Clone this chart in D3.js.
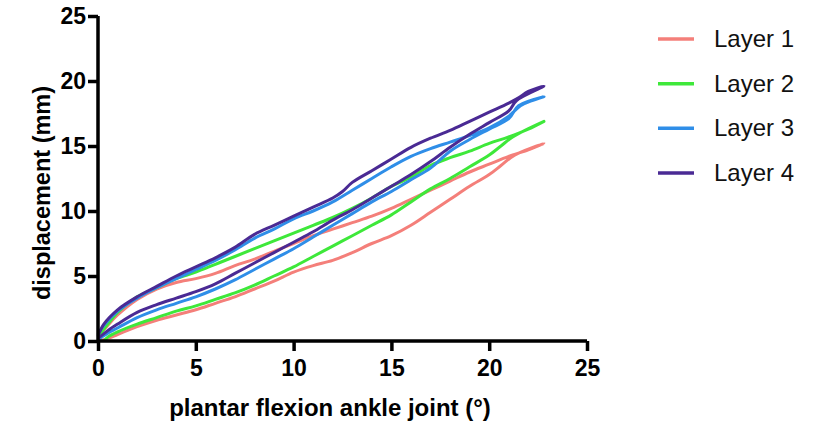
<!DOCTYPE html>
<html>
<head>
<meta charset="utf-8">
<script src="https://cdn.jsdelivr.net/npm/d3@7"></script>
<style>
  body { margin: 0; background: #fff; }
  text { font-family: "Liberation Sans", Arial, sans-serif; }
</style>
</head>
<body>
<div id="vis"></div>
<script>
// values: each layer is a loop, lower branch out, upper branch back
const layerNames = ['Layer 1', 'Layer 2', 'Layer 3', 'Layer 4']
const layerColors = ['#f47f7a', '#3ee83a', '#2f8ee8', '#4a2a94']

const xTicks = [0, 5, 10, 15, 20, 25]
const yTicks = [0, 5, 10, 15, 20, 25]

// [angle, displacement]
const layer1Lower = [[0,0],[0.5,0.2],[1,0.5],[2,1.1],[3,1.6],[4,2.0],[5,2.4],[6,2.9],[7,3.4],[8,4.0],[9,4.6],[10,5.3],[11,5.8],[12,6.2],[13,6.8],[14,7.5],[15,8.1],[16,8.9],[17,9.9],[18,10.9],[19,11.9],[20,12.8],[20.6,13.5],[21.3,14.3]]
const layer1Upper = [[0,0.3],[0.5,1.2],[1,2.0],[2,3.2],[3,4.0],[4,4.5],[5,4.8],[6,5.2],[7,5.8],[8,6.3],[9,6.9],[10,7.5],[11,8.1],[12,8.6],[13,9.1],[14,9.6],[15,10.2],[16,10.9],[17,11.6],[18,12.3],[19,13.0],[20,13.6],[21,14.2],[22,14.7],[22.8,15.2]]

const layer2Lower = [[0.3,0],[0.5,0.3],[1,0.7],[2,1.3],[3,1.8],[4,2.3],[5,2.7],[6,3.2],[7,3.7],[8,4.3],[9,5.0],[10,5.7],[11,6.5],[12,7.3],[13,8.1],[14,8.9],[15,9.7],[16,10.7],[17,11.7],[18,12.5],[19,13.4],[20,14.3],[20.6,15.0],[21.2,15.7]]
const layer2Upper = [[0,0.3],[0.5,1.3],[1,2.2],[2,3.4],[3,4.1],[4,4.8],[5,5.3],[6,5.9],[7,6.5],[8,7.1],[9,7.7],[10,8.3],[11,8.9],[12,9.5],[13,10.2],[14,11.0],[15,11.9],[16,12.6],[17,13.5],[18,14.1],[19,14.6],[20,15.2],[21,15.7],[22,16.3],[22.8,16.9]]

const layer3Lower = [[0,0.1],[0.5,0.6],[1,1.0],[2,1.8],[3,2.4],[4,2.9],[5,3.4],[6,4.0],[7,4.7],[8,5.5],[9,6.3],[10,7.1],[11,8.0],[12,8.9],[13,9.8],[14,10.7],[15,11.5],[16,12.4],[17,13.3],[18,14.6],[19,15.5],[20,16.3],[21,17.1],[21.5,18.1]]
const layer3Upper = [[0,0.5],[0.3,1.2],[1,2.3],[2,3.3],[3,4.1],[4,4.8],[5,5.5],[6,6.2],[7,7.0],[8,7.9],[9,8.6],[10,9.4],[11,10.0],[12,10.7],[13,11.6],[14,12.5],[15,13.4],[16,14.2],[17,14.8],[18,15.3],[19,15.8],[20,16.4],[21,17.3],[21.6,18.1],[22.2,18.5],[22.8,18.8]]

const layer4Lower = [[0,0.2],[0.5,0.8],[1,1.3],[2,2.2],[3,2.8],[4,3.3],[5,3.8],[6,4.4],[7,5.2],[8,6.0],[9,6.8],[10,7.6],[11,8.4],[12,9.3],[13,10.1],[14,11.0],[15,11.9],[16,12.8],[17,13.8],[18,14.9],[19,15.9],[20,16.8],[21,17.7],[21.4,18.5]]
const layer4Upper = [[0,0.4],[0.3,1.3],[1,2.4],[2,3.4],[3,4.2],[4,5.0],[5,5.7],[6,6.4],[7,7.2],[8,8.2],[9,8.9],[10,9.6],[11,10.3],[12,11.0],[12.5,11.5],[13,12.2],[14,13.1],[15,14.0],[16,14.9],[17,15.6],[18,16.2],[19,16.9],[20,17.6],[21,18.3],[21.5,18.7],[22,19.2],[22.8,19.6]]

const lowers = [layer1Lower, layer2Lower, layer3Lower, layer4Lower]
const uppers = [layer1Upper, layer2Upper, layer3Upper, layer4Upper]

const margin = {left: 98, top: 16, right: 230, bottom: 85}
const W = 817, H = 426

let svg = d3.select('#vis').append('svg')
    .attr('width', W)
    .attr('height', H)

let x = d3.scaleLinear([0, 25], [margin.left, 587])
let y = d3.scaleLinear([0, 25], [341, margin.top])

let line = d3.line()
    .x(d => x(d[0]))
    .y(d => y(d[1]))
    .curve(d3.curveCatmullRom)

// draw each loop: out along lower branch, back along upper branch
layerNames.forEach((name, i) => {
    let loop = lowers[i].concat(uppers[i].slice().reverse())
    svg.append('path')
        .attr('d', line(loop))
        .attr('fill', 'none')
        .attr('stroke', layerColors[i])
        .attr('stroke-width', 3)
        .attr('stroke-linejoin', 'round')
})

let xAxis = d3.axisBottom(x).tickValues(xTicks).tickSize(10).tickPadding(9)
let yAxis = d3.axisLeft(y).tickValues(yTicks).tickSize(10).tickPadding(2)

svg.append('g')
    .attr('transform', `translate(0, ${y(0)})`)
    .call(xAxis)
    .call(g => g.selectAll('path, line').attr('stroke', '#000').attr('stroke-width', 3.5))
    .call(g => g.select('.domain').attr('d', `M${x(0)},0H${x(25)}`))
    .call(g => g.selectAll('text').attr('font-size', 23).attr('font-weight', 'bold').attr('fill', '#000')
        .attr('font-family', '"Liberation Sans", Arial, sans-serif'))

svg.append('g')
    .attr('transform', `translate(${x(0)}, 0)`)
    .call(yAxis)
    .call(g => g.selectAll('path, line').attr('stroke', '#000').attr('stroke-width', 3.5))
    .call(g => g.select('.domain').attr('d', `M0,${y(0)}V${y(25)}`))
    .call(g => g.selectAll('text').attr('font-size', 23).attr('font-weight', 'bold').attr('fill', '#000')
        .attr('font-family', '"Liberation Sans", Arial, sans-serif'))

// axis titles
svg.append('text')
    .text('plantar flexion ankle joint (°)')
    .attr('x', 330)
    .attr('y', 416)
    .attr('text-anchor', 'middle')
    .attr('font-size', 24)
    .attr('font-weight', 'bold')

svg.append('text')
    .text('displacement (mm)')
    .attr('transform', 'translate(50, 193) rotate(-90)')
    .attr('text-anchor', 'middle')
    .attr('font-size', 23.5)
    .attr('font-weight', 'bold')

// legend
let legend = svg.append('g')
let legendY = d3.scalePoint(layerNames, [39, 173])

legend.selectAll('line')
    .data(layerNames)
    .enter()
    .append('line')
        .attr('x1', 658)
        .attr('x2', 694)
        .attr('y1', d => legendY(d))
        .attr('y2', d => legendY(d))
        .attr('stroke', (d, i) => layerColors[i])
        .attr('stroke-width', 3.5)

legend.selectAll('text')
    .data(layerNames)
    .enter()
    .append('text')
        .text(d => d)
        .attr('x', 714)
        .attr('y', d => legendY(d) + 8)
        .attr('font-size', 24)
        .attr('fill', '#111')
</script>
</body>
</html>
